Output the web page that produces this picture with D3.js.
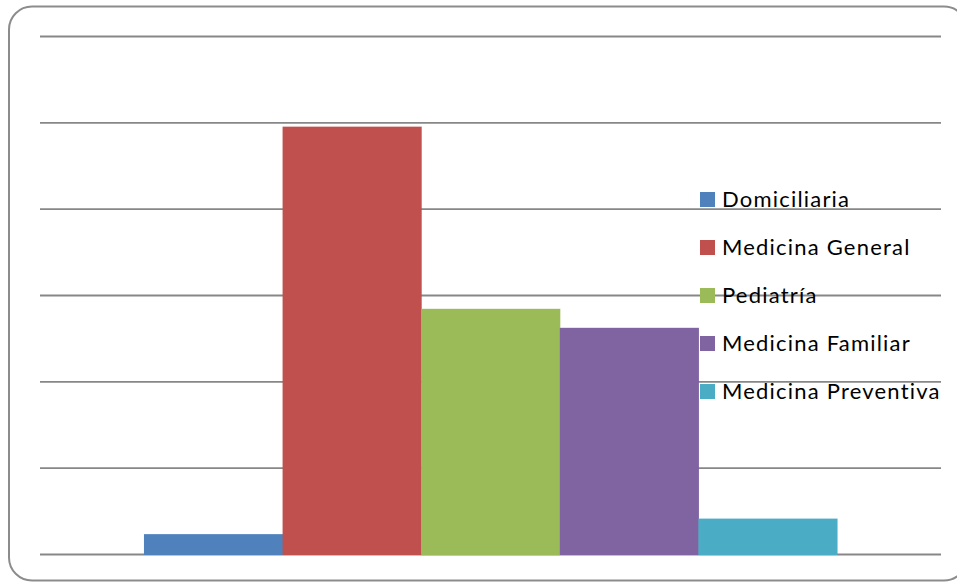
<!DOCTYPE html>
<html>
<head>
<meta charset="utf-8">
<script src="https://cdn.jsdelivr.net/npm/d3@7"></script>
<style>
  html, body { margin: 0; padding: 0; background: #fff; }
  svg { display: block; }
</style>
</head>
<body>
<svg id="chart" width="957" height="582"></svg>
<script>
// Consultas por servicio
const categories = ["Servicios"];
const series = ["Domiciliaria", "Medicina General", "Pediatría", "Medicina Familiar", "Medicina Preventiva"];
const values = [2.3, 49.5, 28.4, 26.2, 4.1];
const colors = ["#4F81BD", "#C0504D", "#9BBB59", "#8064A2", "#4BACC6"];
const yTicks = [0, 10, 20, 30, 40, 50, 60];

const svg = d3.select("#chart");

// Rounded chart-area frame
svg.append("rect")
  .attr("x", 9).attr("y", 6.5)
  .attr("width", 958).attr("height", 574)
  .attr("rx", 23).attr("ry", 23)
  .attr("fill", "#fff")
  .attr("stroke", "#8c8c8c")
  .attr("stroke-width", 2);

const plot = { left: 40, right: 941, top: 36, bottom: 554 };

const y = d3.scaleLinear()
  .domain([0, d3.max(yTicks)])
  .range([plot.bottom, plot.top]);

// One category band with a 150% gap split on both sides
const x0 = d3.scaleBand()
  .domain(categories)
  .range([plot.left, plot.right])
  .paddingInner(0)
  .paddingOuter(0.75 / series.length);

const x1 = d3.scaleBand()
  .domain(series)
  .range([0, x0.bandwidth()])
  .padding(0);

// Horizontal gridlines
const yAxis = d3.axisLeft(y).tickValues(yTicks)
  .tickSize(-(plot.right - plot.left)).tickFormat("");
const g = svg.append("g")
  .attr("transform", `translate(${plot.left},0)`)
  .call(yAxis);
g.select(".domain").remove();
g.selectAll(".tick line")
  .attr("stroke", "#878787")
  .attr("stroke-width", 1.8);

// Bars
const rows = series.map((s, i) => ({ name: s, value: values[i], color: colors[i] }));
svg.append("g")
  .attr("transform", `translate(${x0(categories[0])},0)`)
  .selectAll("rect")
  .data(rows)
  .join("rect")
  .attr("x", d => x1(d.name))
  .attr("y", d => y(d.value))
  .attr("width", x1.bandwidth() + 0.5)
  .attr("height", d => y(0) - y(d.value) + 1)
  .attr("fill", d => d.color);

// Legend
const legend = svg.append("g").attr("transform", "translate(700,207)");
const item = legend.selectAll("g")
  .data(rows)
  .join("g")
  .attr("transform", (d, i) => `translate(0,${i * 48})`);
item.append("rect")
  .attr("x", 0).attr("y", -15)
  .attr("width", 15).attr("height", 15)
  .attr("fill", d => d.color);
item.append("text")
  .attr("x", 22).attr("y", 0)
  .attr("font-family", "Lato, 'Open Sans', sans-serif")
  .attr("font-size", 22)
  .attr("letter-spacing", 1.2)
  .attr("fill", "#000")
  .text(d => d.name);
</script>
</body>
</html>
